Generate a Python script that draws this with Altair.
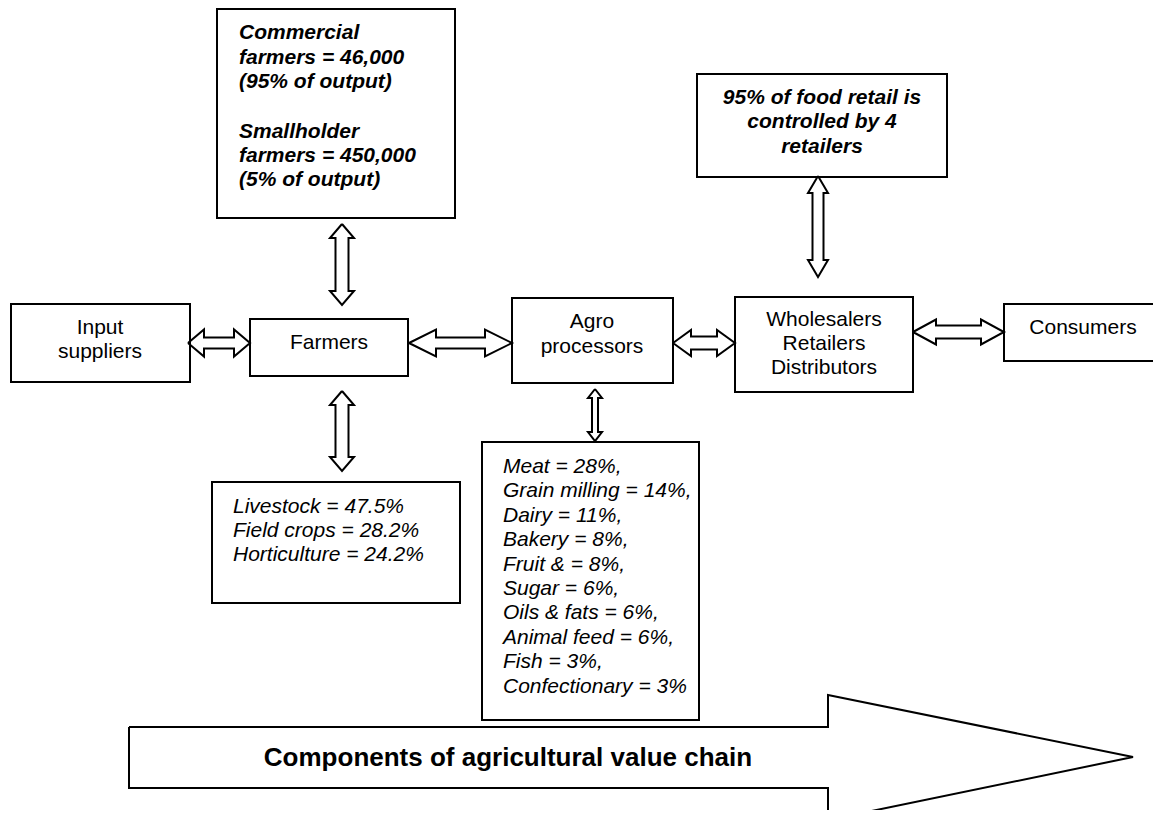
import altair as alt
import pandas as pd

# ---------------- data ----------------
chain_nodes = [["Input", "suppliers"], ["Farmers"], ["Agro", "processors"],
               ["Wholesalers", "Retailers", "Distributors"], ["Consumers"]]
farmer_types = ["Commercial", "Smallholder"]
farmer_counts = ["46,000", "450,000"]
output_shares = [95, 5]
retail_note = ["95% of food retail is", "controlled by 4", "retailers"]
farm_sectors = ["Livestock", "Field crops", "Horticulture"]
farm_shares = ["47.5", "28.2", "24.2"]
agro_sectors = ["Meat", "Grain milling", "Dairy", "Bakery", "Fruit &", "Sugar",
                "Oils & fats", "Animal feed", "Fish", "Confectionary"]
agro_shares = [28, 14, 11, 8, 8, 6, 6, 6, 3, 3]
chain_title = "Components of agricultural value chain"

# ---------------- layout (page pixel coordinates) ----------------
X0, Y0 = 8, 8
W, H = 1145, 802
FONT = "Liberation Sans"

boxes = pd.DataFrame([
    dict(x=11, x2=190, y=304, y2=382),     # input suppliers
    dict(x=250, x2=408, y=319, y2=376),    # farmers
    dict(x=512, x2=673, y=298, y2=383),    # agro processors
    dict(x=735, x2=913, y=297, y2=392),    # wholesalers
    dict(x=1004, x2=1175, y=304, y2=361),  # consumers
    dict(x=217, x2=455, y=9, y2=218),      # farmer numbers
    dict(x=697, x2=947, y=74, y2=177),     # retail note
    dict(x=212, x2=460, y=482, y2=603),    # farm sectors
    dict(x=482, x2=699, y=442, y2=720),    # agro sectors
])


def h_double(xl, xr, yc, hl, hh, sh):
    return [(xl, yc), (xl + hl, yc - hh), (xl + hl, yc - sh), (xr - hl, yc - sh),
            (xr - hl, yc - hh), (xr, yc), (xr - hl, yc + hh), (xr - hl, yc + sh),
            (xl + hl, yc + sh), (xl + hl, yc + hh), (xl, yc)]


def v_double(yt, yb, xc, hl, hh, sh):
    return [(x, y) for (y, x) in h_double(yt, yb, xc, hl, hh, sh)]


shapes = [
    h_double(188, 250, 343, 16, 13.5, 5.5),
    h_double(409, 512, 343, 27, 13.5, 5.5),
    h_double(673, 735, 343, 18, 13, 6.5),
    h_double(913, 1004, 332, 23, 12.5, 6.5),
    v_double(224, 305, 342, 14, 12, 6.5),
    v_double(391, 471, 342, 14, 12, 6.5),
    v_double(389, 441, 595, 9, 7, 3),
    v_double(176, 277, 818, 17, 10, 5.5),
    [(129, 727), (828, 727), (828, 695), (1133, 757), (828, 820), (828, 788),
     (129, 788), (129, 727)],
]
arrow_rows = []
for i, pts in enumerate(shapes):
    for j, (px, py) in enumerate(pts):
        arrow_rows.append(dict(id=i, o=j, x=px, y=py))
arrows = pd.DataFrame(arrow_rows)

# ---------------- text rows ----------------
regular = []
centers = [(100, [328, 352]), (329, [343]), (592, [322, 347]),
           (824, [320, 344, 368]), (1083, [328])]
for lines, (cx, ys) in zip(chain_nodes, centers):
    for t, yy in zip(lines, ys):
        regular.append(dict(x=cx, y=yy, t=t))
regular = pd.DataFrame(regular)

bold_it = []
tl_lines = []
for ft, cnt, sh in zip(farmer_types, farmer_counts, output_shares):
    tl_lines += [ft, f"farmers = {cnt}", f"({sh}% of output)"]
tl_y = [33, 58, 82, 132, 156, 180]
for t, yy in zip(tl_lines, tl_y):
    bold_it.append(dict(x=239, y=yy, t=t, a="left"))
for t, yy in zip(retail_note, [98, 122, 147]):
    bold_it.append(dict(x=822, y=yy, t=t, a="center"))
bold_it = pd.DataFrame(bold_it)

italic = []
for k, (s, v) in enumerate(zip(farm_sectors, farm_shares)):
    italic.append(dict(x=233, y=507 + 24 * k, t=f"{s} = {v}%"))
for k, (s, v) in enumerate(zip(agro_sectors, agro_shares)):
    sep = "," if k < len(agro_sectors) - 1 else ""
    italic.append(dict(x=503, y=467 + 24.4 * k, t=f"{s} = {v}%{sep}"))
italic = pd.DataFrame(italic)

title_df = pd.DataFrame([dict(x=508, y=758, t=chain_title)])

# ---------------- encodings ----------------
xs = alt.Scale(domain=[X0, X0 + W], nice=False, zero=False)
ys = alt.Scale(domain=[Y0, Y0 + H], nice=False, zero=False, reverse=True)
X = alt.X("x:Q", scale=xs, axis=None)
Y = alt.Y("y:Q", scale=ys, axis=None)

rect_layer = alt.Chart(boxes).mark_rect(
    fill="white", stroke="black", strokeWidth=2, clip=True
).encode(x=X, x2="x2:Q", y=Y, y2="y2:Q")

arrow_layer = alt.Chart(arrows).mark_line(
    color="black", strokeWidth=2, strokeJoin="miter", clip=True
).encode(x=X, y=Y, detail="id:N", order="o:Q")

reg_layer = alt.Chart(regular).mark_text(
    font=FONT, fontSize=21, color="black", align="center", baseline="middle"
).encode(x=X, y=Y, text="t:N")

bi_left = alt.Chart(bold_it[bold_it.a == "left"]).mark_text(
    font=FONT, fontSize=21, fontStyle="italic", fontWeight="bold",
    color="black", align="left", baseline="middle"
).encode(x=X, y=Y, text="t:N")

bi_center = alt.Chart(bold_it[bold_it.a == "center"]).mark_text(
    font=FONT, fontSize=21, fontStyle="italic", fontWeight="bold",
    color="black", align="center", baseline="middle"
).encode(x=X, y=Y, text="t:N")

it_layer = alt.Chart(italic).mark_text(
    font=FONT, fontSize=21, fontStyle="italic", color="black",
    align="left", baseline="middle"
).encode(x=X, y=Y, text="t:N")

title_layer = alt.Chart(title_df).mark_text(
    font=FONT, fontSize=26, fontWeight="bold", color="black",
    align="center", baseline="middle"
).encode(x=X, y=Y, text="t:N")

chart = alt.layer(
    rect_layer, arrow_layer, reg_layer, bi_left, bi_center, it_layer, title_layer
).properties(
    width=W, height=H, padding=0, autosize=alt.AutoSizeParams(type="none")
).configure_view(stroke=None)

chart.save("out.html", embed_options={"renderer": "svg", "actions": False})
